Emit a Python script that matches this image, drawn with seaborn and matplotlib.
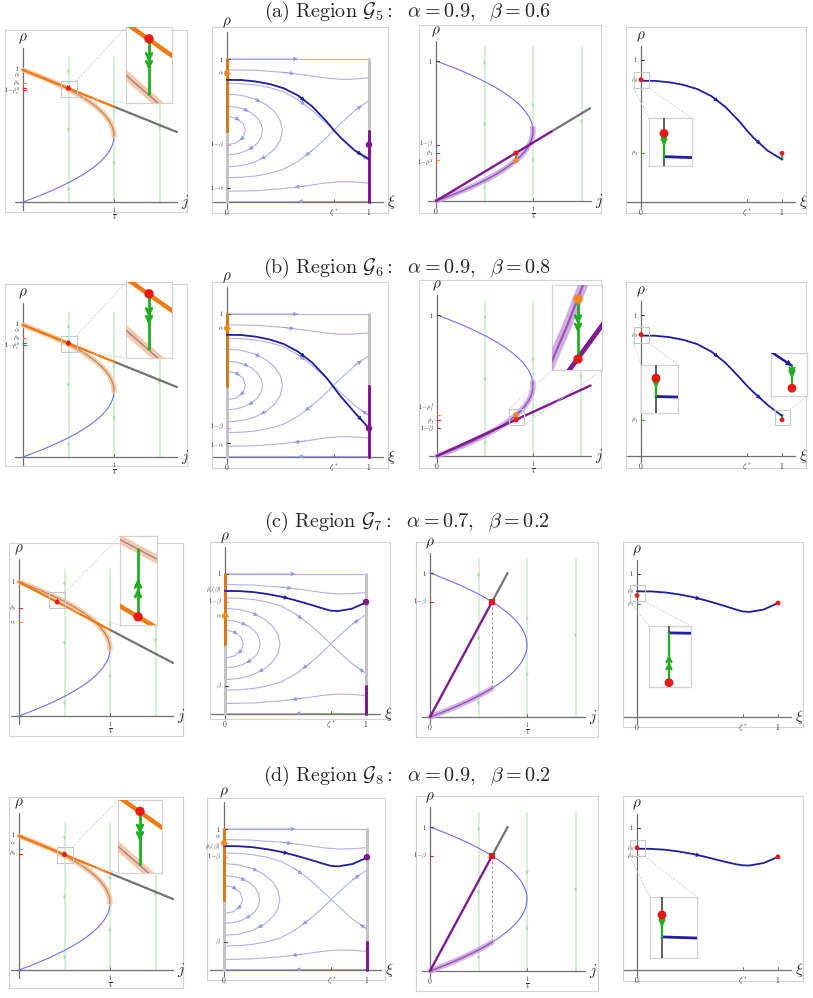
import matplotlib
matplotlib.use("Agg")
import matplotlib.pyplot as plt
import seaborn as sns
from matplotlib.patches import Rectangle, ConnectionPatch

sns.set_theme(style="white")
plt.rcParams["mathtext.fontset"] = "cm"
plt.rcParams["font.family"] = ["DejaVu Serif"]

W, H = 813, 998

# ---------------- data ----------------
TITLES = [r"$\mathrm{(a)\ Region}\ \mathcal{G}_5\mathrm{:}\ \ \alpha=0.9,\ \ \beta=0.6$",
          r"$\mathrm{(b)\ Region}\ \mathcal{G}_6\mathrm{:}\ \ \alpha=0.9,\ \ \beta=0.8$",
          r"$\mathrm{(c)\ Region}\ \mathcal{G}_7\mathrm{:}\ \ \alpha=0.7,\ \ \beta=0.2$",
          r"$\mathrm{(d)\ Region}\ \mathcal{G}_8\mathrm{:}\ \ \alpha=0.9,\ \ \beta=0.2$"]

# current-density curve j = rho(1-rho), read point by point
RHO_GRID = [0.0, 0.025, 0.05, 0.075, 0.1, 0.125, 0.15, 0.175, 0.2, 0.225, 0.25,
            0.275, 0.3, 0.325, 0.35, 0.375, 0.4, 0.425, 0.45, 0.475, 0.5,
            0.525, 0.55, 0.575, 0.6, 0.625, 0.65, 0.675, 0.7, 0.725, 0.75,
            0.775, 0.8, 0.825, 0.85, 0.875, 0.9, 0.925, 0.95, 0.975, 1.0]
J_GRID = [0.0, 0.024375, 0.0475, 0.069375, 0.09, 0.109375, 0.1275, 0.144375, 0.16, 0.174375, 0.1875,
          0.199375, 0.21, 0.219375, 0.2275, 0.234375, 0.24, 0.244375, 0.2475, 0.249375, 0.25,
          0.249375, 0.2475, 0.244375, 0.24, 0.234375, 0.2275, 0.219375, 0.21, 0.199375, 0.1875,
          0.174375, 0.16, 0.144375, 0.1275, 0.109375, 0.09, 0.069375, 0.0475, 0.024375, 0.0]
GREEN_J = [0.125, 0.25, 0.375]
GREEN_MARKS = [(0.125, 0.97), (0.125, 0.53), (0.125, 0.08), (0.25, 0.67), (0.25, 0.28), (0.375, 0.55)]

# panel 1: entry line, its grey continuation, dot on line / on curve
P1_LINE_J = [0.0, 0.25]
P1_LINE_RHO = [[1.0, 0.722], [1.0, 0.722], [1.0, 0.643], [1.0, 0.722]]
P1_GREY_J = [0.25, 0.423]
P1_GREY_RHO = [[0.722, 0.53], [0.722, 0.53], [0.643, 0.396], [0.722, 0.53]]
P1_DOT_J = [0.125, 0.125, 0.105, 0.125]
P1_DOT_LINE = [0.8611, 0.8611, 0.85, 0.8611]
P1_DOT_PAR = [0.8536, 0.8536, 0.8808, 0.8536]
P1_TICK_VAL = [[1.0, 0.9, 0.866, 0.848], [1.0, 0.9, 0.866, 0.848], [1.0, 0.805, 0.70], [1.0, 0.9, 0.866]]
P1_TICK_TXT = [["1", r"\alpha", r"\rho_0", r"1\!-\!\rho_c^0"], ["1", r"\alpha", r"\rho_0", r"1\!-\!\rho_c^0"],
               ["1", r"\rho_0", r"\alpha"], ["1", r"\alpha", r"\rho_0"]]

# panel 2: stream lines of the profile equation
S_TOP_XI = [0.0, 1.0]
S_TOP_RHO = [1.0, 1.0]
S_BOT_RHO = [0.004, 0.004]
S_UP_XI = [0.0, 0.2, 0.4, 0.55, 0.7, 0.8, 0.9, 1.0]
S_UP_RHO = [0.925, 0.921, 0.906, 0.888, 0.866, 0.858, 0.86, 0.868]
S_LO_RHO = [0.075, 0.079, 0.094, 0.112, 0.134, 0.142, 0.14, 0.132]
SEP_XI = [0.0, 0.1, 0.2, 0.3, 0.4, 0.5, 0.6, 0.7, 0.75, 0.8, 0.9, 1.0]
SEP_DOWN = [0.83, 0.827, 0.818, 0.80, 0.77, 0.715, 0.64, 0.55, 0.5, 0.452, 0.36, 0.29]
SEP_UP = [0.17, 0.173, 0.182, 0.20, 0.23, 0.285, 0.36, 0.45, 0.5, 0.548, 0.64, 0.71]
ARC1_XI = [0.0, 0.065, 0.113, 0.13, 0.113, 0.065, 0.0]
ARC1_RHO = [0.40, 0.413, 0.45, 0.5, 0.55, 0.587, 0.60]
ARC2_XI = [0.0, 0.065, 0.125, 0.177, 0.217, 0.241, 0.25, 0.241, 0.217, 0.177, 0.125, 0.065, 0.0]
ARC2_RHO = [0.33, 0.336, 0.353, 0.38, 0.415, 0.456, 0.5, 0.544, 0.585, 0.62, 0.647, 0.664, 0.67]
ARC3_XI = [0.0, 0.101, 0.195, 0.276, 0.338, 0.377, 0.39, 0.377, 0.338, 0.276, 0.195, 0.101, 0.0]
ARC3_RHO = [0.245, 0.254, 0.279, 0.32, 0.3725, 0.434, 0.5, 0.566, 0.6275, 0.68, 0.721, 0.746, 0.755]

# density profiles rho(xi)
XI_P = [0.0, 0.1, 0.2, 0.3, 0.4, 0.5, 0.6, 0.7, 0.75, 0.8, 0.9, 1.0]
PROF_A = [0.854, 0.853, 0.843, 0.825, 0.795, 0.745, 0.668, 0.565, 0.505, 0.45, 0.36, 0.30]
PROF_B2 = [0.854, 0.853, 0.842, 0.822, 0.79, 0.737, 0.66, 0.555, 0.49, 0.425, 0.31, 0.20]
PROF_B4 = [0.854, 0.853, 0.843, 0.824, 0.793, 0.74, 0.66, 0.555, 0.5, 0.45, 0.36, 0.285]
PROF_C = [0.879, 0.878, 0.871, 0.857, 0.838, 0.812, 0.783, 0.752, 0.738, 0.735, 0.752, 0.797]
PROF_D4 = [0.854, 0.853, 0.847, 0.834, 0.816, 0.793, 0.768, 0.745, 0.737, 0.736, 0.754, 0.797]
P2_PROF = [PROF_A, PROF_B2, PROF_C, PROF_C]
P4_PROF = [PROF_A, PROF_B4, PROF_C, PROF_D4]

P2_ORANGE_SEG = [[0.5, 1.0], [0.5, 1.0], [0.5, 1.0], [0.5, 1.0]]
P2_PURPLE_SEG = [[0.0, 0.5], [0.0, 0.5], [0.0, 0.2], [0.0, 0.2]]
P2_ALPHA_DOT = [0.9, 0.9, 0.7, 0.9]
P2_BETA_DOT = [0.4, 0.2, 0.8, 0.8]
P2_TICK_VAL = [[1.0, 0.9, 0.4, 0.1], [1.0, 0.9, 0.2, 0.1], [1.0, 0.879, 0.8, 0.7, 0.2], [1.0, 0.9, 0.879, 0.8, 0.2]]
P2_TICK_TXT = [["1", r"\alpha", r"1\!-\!\beta", r"1\!-\!\alpha"], ["1", r"\alpha", r"1\!-\!\beta", r"1\!-\!\alpha"],
               ["1", r"\rho_c(\beta)", r"1\!-\!\beta", r"\alpha", r"\beta"],
               ["1", r"\alpha", r"\rho_c(\beta)", r"1\!-\!\beta", r"\beta"]]

# panel 3: exit line and points
P3_LINE_J = [[0.0, 0.298], [0.0, 0.40], [0.0, 0.16], [0.0, 0.16]]
P3_LINE_RHO = [[0.0, 0.497], [0.0, 0.50], [0.0, 0.8], [0.0, 0.8]]
P3_GREY_J = [[0.298, 0.397], None, [0.16, 0.2], [0.16, 0.2]]
P3_GREY_RHO = [[0.497, 0.662], None, [0.8, 1.0], [0.8, 1.0]]
P3_BAND_N = [22, 22, 9, 9]
P3_RED = [(0.206, 0.343), (0.206, 0.257), (0.16, 0.8), (0.16, 0.8)]
P3_ORANGE = [(0.206, 0.29), (0.206, 0.29), None, None]
P3_DASH_RHO = [0.8, 0.2]
P3_TICK_VAL = [[1.0, 0.4, 0.343, 0.29], [1.0, 0.29, 0.257, 0.2], [1.0, 0.8], [1.0, 0.8]]
P3_TICK_TXT = [["1", r"1\!-\!\beta", r"\rho_1", r"1\!-\!\rho_e^1"], ["1", r"1\!-\!\rho_f^1", r"\rho_1", r"1\!-\!\beta"],
               ["1", r"1\!-\!\beta"], ["1", r"1\!-\!\beta"]]

# panel 4: boundary densities
P4_RED0 = [0.861, 0.861, 0.85, 0.861]
P4_RED1 = [0.343, 0.257, 0.797, 0.797]
P4_TICK_VAL = [[1.0, 0.861, 0.343], [1.0, 0.861, 0.257], [1.0, 0.879, 0.79], [1.0, 0.861, 0.80]]
P4_TICK_TXT = [["1", r"\rho_0", r"\rho_1"]] * 4

# ---------------- layout & style ----------------
TITLE_Y = [12, 268, 522, 776]
P1_BOX = [(5, 30, 187, 212), (5, 284, 187, 466), (9, 543, 183, 736), (9, 797, 183, 988)]
P1_ORG = [(23, 202), (23, 457), (19, 716), (19, 970)]
P1_SCL = [(364, 132), (364, 132), (364, 134), (364, 134)]
P2_BOX = [(212, 27, 388, 213), (212, 282, 388, 468), (210, 542, 390, 719), (207, 798, 385, 980)]
P2_ORG = [(227, 202), (227, 457), (225, 714), (224, 970)]
P2_SCL = [(142, 143), (142, 143), (141, 140), (143, 141)]
P3_BOX = [(419, 25, 601, 213), (419, 280, 601, 468), (416, 542, 598, 737), (416, 796, 598, 991)]
P3_ORG = [(436, 201), (437, 456), (430, 717), (430, 971)]
P3_SCL = [(388, 140), (384, 141), (388, 144), (388, 144)]
P4_BOX = [(626, 27, 806, 213), (626, 282, 806, 468), (623, 542, 803, 727), (623, 796, 803, 981)]
P4_ORG = [(641, 202), (641, 456), (637, 717), (637, 970)]
P4_SCL = [(141, 142), (141, 141), (141, 143), (141, 142)]

P1_INSET = [((126, 27, 172, 103), (0.12303, 0.12697), (0.8524, 0.8627)),
            ((126, 282, 172, 358), (0.12303, 0.12697), (0.8524, 0.8627)),
            ((120, 536, 157, 625), (0.10164, 0.10854), (0.8463, 0.8866)),
            ((118, 800, 162, 873), (0.12303, 0.12697), (0.8524, 0.8627))]
P3_INSET = ((552, 285, 602, 370), (0.1904, 0.2204), (0.251, 0.2977))
P4_INSET = [((649, 118, 692, 166), (-0.015, 0.028), (0.8512, 0.8656)),
            ((641, 365, 678, 413), (-0.015, 0.022), (0.8477, 0.866)),
            ((649, 626, 691, 687), (-0.02, 0.022), (0.8475, 0.883)),
            ((650, 897, 697, 958), (-0.012, 0.035), (0.8473, 0.8667))]
P4B_RIGHT = ((771, 353, 807, 396), (0.9767, 1.0167), (0.2473, 0.301))

P1_TICK_COL = [["#444444", "#f08a20", "#e82020", "#e82020"], ["#444444", "#f08a20", "#e82020", "#e82020"],
               ["#444444", "#e82020", "#f08a20"], ["#444444", "#f08a20", "#e82020"]]
P1_LAB_Y = [[1.012, 0.958, 0.902, 0.838], [1.012, 0.958, 0.902, 0.838], [1.0, 0.805, 0.70], [1.01, 0.945, 0.875]]
P2_TICK_COL = [["#444444", "#f08a20", "#e38bc5", "#444444"], ["#444444", "#f08a20", "#e38bc5", "#444444"],
               ["#444444", "#444444", "#e38bc5", "#f08a20", "#444444"],
               ["#444444", "#f08a20", "#444444", "#e38bc5", "#444444"]]
P2_LAB_Y = [[1.0, 0.9, 0.4, 0.1], [1.0, 0.9, 0.21, 0.09], [1.0, 0.888, 0.8, 0.7, 0.2], [1.0, 0.945, 0.875, 0.8, 0.2]]
P3_TICK_COL = [["#444444", "#8e2a9e", "#e82020", "#f08a20"], ["#444444", "#f08a20", "#e82020", "#8e2a9e"],
               ["#444444", "#e82020"], ["#444444", "#e82020"]]
P3_LAB_Y = [[1.0, 0.405, 0.342, 0.268], [1.0, 0.335, 0.252, 0.19], [1.0, 0.8], [1.0, 0.8]]
P4_TICK_COL = [["#444444", "#e82020", "#33aa33"]] * 4

AXC = "#6f6f6f"
FRAME = "#d3d3d3"
GREEN_F = "#c9ecc9"
GREEN = "#1fae1f"
BLUE_L = "#6f6ff5"
ORANGE = "#f07a12"
HALO_O = "#f3c4a0"
BROWN = "#c4875a"
GREY_D = "#737373"
RED = "#e81818"
PURPLE = "#7e1b8e"
HALO_P = "#c8a0dc"
PURPLE_C = "#9a57b8"
STREAM = "#b0b0ea"
STREAM_H = "#9a9ae0"
DBLUE = "#1e1ea0"
ORANGE2 = "#d47a20"
ORDOT = "#f08a20"

STREAMS = [(S_TOP_XI, S_TOP_RHO, [(0, False)]),
           (S_TOP_XI, S_BOT_RHO, [(0, True)]),
           (S_UP_XI, S_UP_RHO, [(2, False)]),
           (S_UP_XI, S_LO_RHO, [(2, True)]),
           (ARC1_XI, ARC1_RHO, [(1, True), (4, True)]),
           (ARC2_XI, ARC2_RHO, [(2, True), (9, True)]),
           (ARC3_XI, ARC3_RHO, [(2, True), (9, True)]),
           (SEP_XI, SEP_DOWN, [(5, False), (10, True)]),
           (SEP_XI, SEP_UP, [(5, True), (10, False)])]

fig = plt.figure(figsize=(W / 100, H / 100), dpi=100)
fig.patch.set_facecolor("white")
ALL_AX = []


def panel(box, origin, scale, z=1):
    l, t, r, b = box
    x0, y0 = origin
    sx, sy = scale
    ax = fig.add_axes([l / W, 1 - b / H, (r - l) / W, (b - t) / H], zorder=z)
    ax.lims = (((l - x0) / sx, (r - x0) / sx), ((y0 - b) / sy, (y0 - t) / sy))
    ax.px = (1.0 / sx, 1.0 / sy)
    ax.set_facecolor("white")
    for s in ax.spines.values():
        s.set_color(FRAME)
        s.set_linewidth(0.8)
    ALL_AX.append(ax)
    return ax


def make_inset(box, xl, yl):
    l, t, r, b = box
    ax = fig.add_axes([l / W, 1 - b / H, (r - l) / W, (b - t) / H], zorder=5)
    ax.lims = (xl, yl)
    ax.px = ((xl[1] - xl[0]) / (r - l), (yl[1] - yl[0]) / (b - t))
    ax.set_facecolor("white")
    for s in ax.spines.values():
        s.set_color(FRAME)
        s.set_linewidth(0.9)
    ALL_AX.append(ax)
    return ax


def line(ax, x, y, **kw):
    sns.lineplot(x=list(x), y=list(y), ax=ax, sort=False, estimator=None, legend=False, **kw)


def dot(ax, x, y, color, s, marker="o", z=8):
    sns.scatterplot(x=[x], y=[y], ax=ax, color=color, s=s, marker=marker,
                    edgecolor="none", linewidth=0, zorder=z, legend=False)


def head(ax, p, q, color, ms=5, style="-|>", lw=0.6):
    ax.annotate("", xy=q, xytext=p,
                arrowprops=dict(arrowstyle=style, color=color, lw=lw, mutation_scale=ms,
                                shrinkA=0, shrinkB=0))


def curve_head(ax, xs, ys, i, rev, color, ms=5):
    a = (xs[i], ys[i])
    b = (xs[i + 1], ys[i + 1])
    m = ((a[0] + b[0]) / 2, (a[1] + b[1]) / 2)
    head(ax, b if rev else a, m, color, ms)


def green_arrow(ax, x, ya, yb, lw=1.5, ms=7):
    line(ax, [x, x], [ya, yb], color=GREEN, linewidth=lw, zorder=7)
    d = yb - ya
    for f in (0.42, 0.56):
        head(ax, (x, ya + d * (f - 0.1)), (x, ya + d * f), GREEN, ms, "->", lw)


def axes_lines(ax, xr, yr, xname):
    px, py = ax.px
    line(ax, xr, [0, 0], color=AXC, linewidth=0.9, zorder=2)
    line(ax, [0, 0], yr, color=AXC, linewidth=0.9, zorder=2)
    ax.text(xr[1] + 4 * px, 0, xname, fontsize=11, ha="left", va="center")
    ax.text(0, yr[1] + 2 * py, r"$\rho$", fontsize=11, ha="center", va="bottom")


def yticks(ax, vals, txts, cols, laby):
    px, py = ax.px
    for v, t, c, ly in zip(vals, txts, cols, laby):
        line(ax, [0, 3 * px], [v, v], color=c, linewidth=0.8, zorder=3)
        ax.text(-3 * px, ly, "$" + t + "$", fontsize=4.6, ha="right", va="center", color="#333333")


def xticks(ax, vals, txts, marks=True):
    px, py = ax.px
    for v, t in zip(vals, txts):
        if marks and v != 0:
            line(ax, [v, v], [0, 3 * py], color=AXC, linewidth=0.7, zorder=3)
        ax.text(v, -5 * py, "$" + t + "$", fontsize=5.5, ha="center", va="top", color="#333333")


def src_box(ax, cx, cy, hx, hy):
    px, py = ax.px
    x0, x1 = cx - hx * px, cx + hx * px
    y0, y1 = cy - hy * py, cy + hy * py
    ax.add_patch(Rectangle((x0, y0), x1 - x0, y1 - y0, fill=False, ec="#c8c8c8", lw=0.8, zorder=6))
    return {"tl": (x0, y1), "tr": (x1, y1), "bl": (x0, y0), "br": (x1, y0)}


def connect(ax, corners, iax, pairs):
    fr = {"tl": (0, 1), "tr": (1, 1), "bl": (0, 0), "br": (1, 0)}
    for a, b in pairs:
        con = ConnectionPatch(xyA=corners[a], coordsA="data", axesA=ax,
                              xyB=fr[b], coordsB="axes fraction", axesB=iax,
                              color="#cfcfcf", lw=0.6, ls=(0, (2, 2)), zorder=4)
        fig.add_artist(con)


def green_guides(ax):
    for gj in GREEN_J:
        line(ax, [gj, gj], [0, 1.1], color=GREEN_F, linewidth=1.1, zorder=1)
    for gj, gr in GREEN_MARKS:
        head(ax, (gj, gr + 0.03), (gj, gr), "#a8dca8", 4, "->", 0.6)


def draw_p1(ax, k):
    green_guides(ax)
    axes_lines(ax, (-0.022, 0.423), (-0.06, 1.17), r"$j$")
    line(ax, J_GRID[:21], RHO_GRID[:21], color=BLUE_L, linewidth=0.8, zorder=3)
    line(ax, J_GRID[20:], RHO_GRID[20:], color=HALO_O, linewidth=3.8, alpha=0.85, zorder=3)
    line(ax, J_GRID[20:], RHO_GRID[20:], color=BROWN, linewidth=0.9, zorder=4)
    line(ax, P1_GREY_J, P1_GREY_RHO[k], color=GREY_D, linewidth=1.6, zorder=4)
    line(ax, P1_LINE_J, P1_LINE_RHO[k], color=ORANGE, linewidth=1.7, zorder=5)
    dj, dl, dp = P1_DOT_J[k], P1_DOT_LINE[k], P1_DOT_PAR[k]
    green_arrow(ax, dj, dl, dp, 0.8, 3)
    dot(ax, dj, dl, RED, 12)
    corners = src_box(ax, dj, (dl + dp) / 2, 8, 8)
    box, xl, yl = P1_INSET[k]
    iax = make_inset(box, xl, yl)
    line(iax, J_GRID[20:], RHO_GRID[20:], color=HALO_O, linewidth=6, alpha=0.9, zorder=3)
    line(iax, J_GRID[20:], RHO_GRID[20:], color="#a07a98", linewidth=0.9, zorder=4)
    line(iax, P1_LINE_J, P1_LINE_RHO[k], color=ORANGE, linewidth=3.2, zorder=5)
    green_arrow(iax, dj, dl, dp, 2.0, 10)
    dot(iax, dj, dl, RED, 45)
    connect(ax, corners, iax, [("tr", "tl"), ("br", "bl")])
    yticks(ax, P1_TICK_VAL[k], P1_TICK_TXT[k], P1_TICK_COL[k], P1_LAB_Y[k])
    xticks(ax, [0.25], [r"\frac{1}{4}"])


def draw_p2(ax, k):
    axes_lines(ax, (-0.1, 1.1), (-0.04, 1.19), r"$\xi$")
    for xs, ys, arrows in STREAMS:
        line(ax, xs, ys, color=STREAM, linewidth=0.8, zorder=2)
        for i, rev in arrows:
            curve_head(ax, xs, ys, i, rev, STREAM_H, 6)
    line(ax, [0, 0], [0, 1], color="#c4c4c4", linewidth=2.2, zorder=3)
    line(ax, [1, 1], [0, 1], color="#c4c4c4", linewidth=2.2, zorder=3)
    line(ax, [0, 0], P2_ORANGE_SEG[k], color=ORANGE2, linewidth=2.2, zorder=4)
    line(ax, [1, 1], P2_PURPLE_SEG[k], color=PURPLE, linewidth=2.2, zorder=4)
    prof = P2_PROF[k]
    line(ax, XI_P, prof, color=DBLUE, linewidth=1.3, zorder=5)
    for i in ([5, 10] if k < 2 else [4]):
        curve_head(ax, XI_P, prof, i, False, DBLUE, 6)
    dot(ax, 0, P2_ALPHA_DOT[k], ORDOT, 18)
    dot(ax, 1, P2_BETA_DOT[k], PURPLE, 22)
    yticks(ax, P2_TICK_VAL[k], P2_TICK_TXT[k], P2_TICK_COL[k], P2_LAB_Y[k])
    xticks(ax, [0, 0.75, 1], ["0", r"\zeta^*", "1"])


def draw_p3(ax, k):
    green_guides(ax)
    axes_lines(ax, (-0.02, 0.40), (-0.04, 1.14), r"$j$")
    line(ax, J_GRID, RHO_GRID, color=BLUE_L, linewidth=0.8, zorder=3)
    n = P3_BAND_N[k]
    line(ax, J_GRID[:n], RHO_GRID[:n], color=HALO_P, linewidth=4, alpha=0.8, zorder=3)
    line(ax, J_GRID[:n], RHO_GRID[:n], color=PURPLE_C, linewidth=1.0, zorder=4)
    line(ax, P3_LINE_J[k], P3_LINE_RHO[k], color=PURPLE, linewidth=1.7, zorder=5)
    if P3_GREY_J[k] is not None:
        line(ax, P3_GREY_J[k], P3_GREY_RHO[k], color=GREY_D, linewidth=1.6, zorder=4)
    rx, ry = P3_RED[k]
    if P3_ORANGE[k] is not None:
        ox, oy = P3_ORANGE[k]
        green_arrow(ax, ox, oy, ry, 1.0, 4)
        dot(ax, ox, oy, ORDOT, 14)
        dot(ax, rx, ry, RED, 14)
    else:
        line(ax, [rx, rx], P3_DASH_RHO, color="#9a9a9a", linewidth=0.7, linestyle=(0, (3, 2)), zorder=3)
        dot(ax, rx, ry, RED, 16, marker="s")
    if k == 1:
        ox, oy = P3_ORANGE[k]
        corners = src_box(ax, ox, (oy + ry) / 2, 7.5, 8)
        box, xl, yl = P3_INSET
        iax = make_inset(box, xl, yl)
        line(iax, J_GRID[:n], RHO_GRID[:n], color=HALO_P, linewidth=7, alpha=0.85, zorder=3)
        line(iax, J_GRID[:n], RHO_GRID[:n], color=PURPLE_C, linewidth=1.6, zorder=4)
        line(iax, P3_LINE_J[k], P3_LINE_RHO[k], color=PURPLE, linewidth=3.4, zorder=5)
        green_arrow(iax, ox, oy, ry, 2.0, 10)
        dot(iax, ox, oy, ORDOT, 45)
        dot(iax, rx, ry, RED, 45)
        connect(ax, corners, iax, [("tl", "bl"), ("br", "br")])
    yticks(ax, P3_TICK_VAL[k], P3_TICK_TXT[k], P3_TICK_COL[k], P3_LAB_Y[k])
    xticks(ax, [0, 0.25], ["0", r"\frac{1}{4}"])


def p4_inset(ax, k, spec, pairs, end=False):
    prof = P4_PROF[k]
    box, xl, yl = spec
    iax = make_inset(box, xl, yl)
    if end:
        corners = src_box(ax, 1, (prof[-1] + P4_RED1[k]) / 2, 7.5, 7.5)
        line(iax, XI_P, prof, color=DBLUE, linewidth=1.8, zorder=4)
        head(iax, (0.985, prof[-2] + (prof[-1] - prof[-2]) * 0.85), (1.0, prof[-1]), DBLUE, 9)
        green_arrow(iax, 1, prof[-1], P4_RED1[k], 1.6, 9)
        dot(iax, 1, P4_RED1[k], RED, 40)
    else:
        corners = src_box(ax, 0, (prof[0] + P4_RED0[k]) / 2, 7.5, 8)
        line(iax, [0, 0], yl, color="#333333", linewidth=1.1, zorder=3)
        line(iax, XI_P, prof, color=DBLUE, linewidth=2.0, zorder=4)
        green_arrow(iax, 0, P4_RED0[k], prof[0], 1.6, 9)
        dot(iax, 0, P4_RED0[k], RED, 40)
    connect(ax, corners, iax, pairs)


def draw_p4(ax, k):
    axes_lines(ax, (-0.1, 1.09), (-0.04, 1.1), r"$\xi$")
    prof = P4_PROF[k]
    line(ax, XI_P, prof, color=DBLUE, linewidth=1.3, zorder=5)
    for i in ([5, 9] if k < 2 else [4]):
        curve_head(ax, XI_P, prof, i, False, DBLUE, 6)
    if k < 2:
        green_arrow(ax, 1, prof[-1], P4_RED1[k], 0.9, 3)
    dot(ax, 0, P4_RED0[k], RED, 12)
    dot(ax, 1, P4_RED1[k], RED, 12)
    p4_inset(ax, k, P4_INSET[k], [("bl", "tl"), ("br", "tr")])
    if k == 1:
        p4_inset(ax, k, P4B_RIGHT, [("tl", "bl"), ("tr", "br")], end=True)
    yticks(ax, P4_TICK_VAL[k], P4_TICK_TXT[k], P4_TICK_COL[k], P4_TICK_VAL[k])
    xticks(ax, [0, 0.75, 1], ["0", r"\zeta^*", "1"])


for k in range(4):
    fig.text(407 / W, 1 - TITLE_Y[k] / H, TITLES[k], ha="center", va="center", fontsize=14.5)
    draw_p1(panel(P1_BOX[k], P1_ORG[k], P1_SCL[k]), k)
    draw_p2(panel(P2_BOX[k], P2_ORG[k], P2_SCL[k]), k)
    draw_p3(panel(P3_BOX[k], P3_ORG[k], P3_SCL[k]), k)
    draw_p4(panel(P4_BOX[k], P4_ORG[k], P4_SCL[k]), k)

for ax in ALL_AX:
    ax.set_xlim(*ax.lims[0])
    ax.set_ylim(*ax.lims[1])
    ax.set_xticks([])
    ax.set_yticks([])
    ax.set_xlabel("")
    ax.set_ylabel("")

fig.savefig("out.png", dpi=100, facecolor="white")
